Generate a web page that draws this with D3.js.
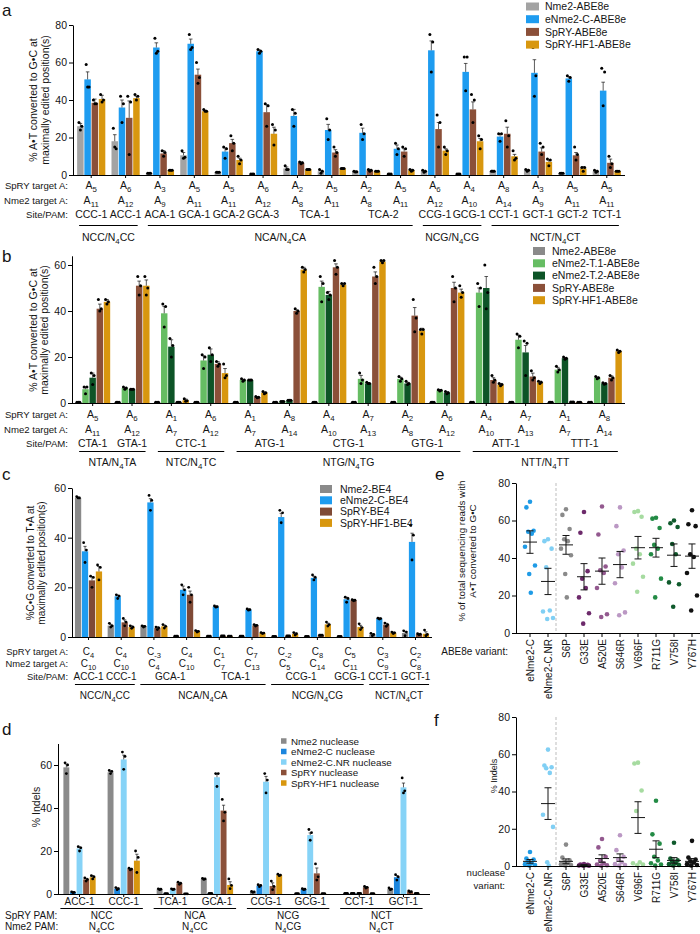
<!DOCTYPE html>
<html><head><meta charset="utf-8">
<script src="https://cdn.jsdelivr.net/npm/d3@7"></script>
<style>body{margin:0;background:#fff}svg{font-family:"Liberation Sans",Arial,Helvetica,sans-serif}</style>
</head><body>
<svg id="chart" width="700" height="934"></svg>
<script>
// ---------------- DATA ----------------
// Panel a
const aSpry = ["5","6","3","5","5","6","2","5","2","5","6","4","8","3","5","5"];
const aNme2 = ["11","12","9","11","11","12","8","11","8","11","12","10","14","9","11","11"];
const aSite = ["CCC-1","ACC-1","ACA-1","GCA-1","GCA-2","GCA-3","TCA-1","TCA-1","TCA-2","TCA-2","CCG-1","GCG-1","CCT-1","GCT-1","GCT-2","TCT-1"];
const aPam = ["NCC/N_{4}CC","NCC/N_{4}CC","NCA/N_{4}CA","NCA/N_{4}CA","NCA/N_{4}CA","NCA/N_{4}CA","NCA/N_{4}CA","NCA/N_{4}CA","NCA/N_{4}CA","NCA/N_{4}CA","NCG/N_{4}CG","NCG/N_{4}CG","NCT/N_{4}CT","NCT/N_{4}CT","NCT/N_{4}CT","NCT/N_{4}CT"];
const aNames = ["Nme2-ABE8e","eNme2-C-ABE8e","SpRY-ABE8e","SpRY-HF1-ABE8e"];
const aNme2Val = [26,18,1,10.5,1.5,0.5,3.5,2,1.8,0.5,2,0.5,2,2.5,1,2];
const aEVal    = [51,36,68,70,12.5,66,31.5,24,22.5,14,66.5,55,20.5,54.5,51.5,45];
const aSpryVal = [38.5,30.5,11.5,53.5,17,33.5,6.5,12,2.5,12.5,24.5,35,22,12.5,10.5,6.5];
const aHfVal   = [40.5,41,2.5,34,8,22,3,3.5,2,2.5,13,18,10,7,3.5,2];
const aNme2Sem = [1.5,3.5,0.2,1.5,0.2,0.1,0.8,0.5,0.3,0.2,0.5,0.2,0.5,0.5,0.3,0.5];
const aESem    = [4,4,2.5,2.5,2,0.7,3.5,3,2.5,2,5,4.5,1.5,7,1,4.5];
const aSprySem = [2,9,1.5,3,2,4,0.5,1.5,0.5,1.5,3.5,4,3.5,2,1.5,2];
const aHfSem   = [2,1,0.3,0.5,1,3.5,0.3,0.3,0.2,0.5,1,1.5,1,1,1,0.3];
const aNme2Dots = [[28,26,24],[25,14,15],[1,1,1],[13,9.5,9],[1.5,1.5,1.5],[0.5,0.5,0.5],[5,3,3],[3,2,1],[2,1.8,1.6],[0.5,0.5,0.5],[2.5,2,1.5],[0.5,0.5,0.5],[2,2,2],[3,2.5,2],[1,1,1],[2.5,2,1.5]];
const aEDots = [[59,47,47],[42,38,28],[73,66,65],[75,68,67],[15,14,9],[67,66,65],[35,33,26],[30,24,19],[27,22,19],[17,14,11],[75,71,55],[63,63,45],[22,22,18],[68,53,42],[53,52,50],[57,55,37]];
const aSpryDots = [[40,38,38],[42,39,11],[13,12,10],[60,52,49],[21,17,13],[38,37,26],[7,6.5,6],[15,12,10],[3,2.5,2],[15,14,10],[32,28,15],[43,40,28],[29,21,15],[17,15,11],[15,11,8],[10,6,4]];
const aHfDots = [[43,40,39],[43,42,40],[2.5,2.5,2.5],[35,34,34],[10,8,6],[27,24,16],[3,3,3],[3.5,3.5,3.5],[2,2,2],[3,2.5,2],[15,13,11],[21,19,14],[13,9,8],[8.5,8,5],[4,4,2],[2,2,2]];

// Panel b
const bSpry = ["5","6","1","6","1","8","4","7","2","6","4","7","1","8"];
const bNme2 = ["11","12","7","12","7","14","10","13","8","12","10","13","7","14"];
const bSite = ["CTA-1","GTA-1","CTC-1","CTC-1","ATG-1","ATG-1","CTG-1","CTG-1","GTG-1","GTG-1","ATT-1","ATT-1","TTT-1","TTT-1"];
const bPam = ["NTA/N_{4}TA","NTA/N_{4}TA","NTC/N_{4}TC","NTC/N_{4}TC","NTG/N_{4}TG","NTG/N_{4}TG","NTG/N_{4}TG","NTG/N_{4}TG","NTG/N_{4}TG","NTG/N_{4}TG","NTT/N_{4}TT","NTT/N_{4}TT","NTT/N_{4}TT","NTT/N_{4}TT"];
const bNames = ["Nme2-ABE8e","eNme2-T.1-ABE8e","eNme2-T.2-ABE8e","SpRY-ABE8e","SpRY-HF1-ABE8e"];
const bNme2Val = [0.3,0.3,0.3,0.3,0.3,0.3,0.3,0.3,0.3,0.3,0.3,0.3,0.3,0.3];
const bT1Val   = [6,6.5,39,18.5,10,0.7,50.5,10.5,10.5,5.5,48,27.5,14.5,11];
const bT2Val   = [11,6,24.5,21,10,1.2,47,8.5,8.5,4.5,50,22,19.5,8.5];
const bSpryVal = [41,51,0.3,17,2.5,40,59,55,38,50,10,11.5,0.4,11];
const bHfVal   = [44,51,1.2,13,4.5,58,51.5,61.5,31.5,48,8,9,0.3,22.5];
const bNme2Sem = [0.05,0.05,0.05,0.05,0.05,0.05,0.05,0.05,0.05,0.05,0.05,0.05,0.05,0.05];
const bT1Sem   = [1,0.3,3,2,0.3,0.1,2.5,1.5,0.7,0.3,2,2,1,0.3];
const bT2Sem   = [2,0.2,3,2.5,0.2,0.2,1.5,0.3,0.5,0.5,5,3,0.3,0.2];
const bSprySem = [2,2,0.1,1,0.2,0.5,1.5,2,3.5,2.5,1,1.5,0.1,0.8];
const bHfSem   = [1,2.5,0.5,2,0.3,1,0.5,0.5,1,1.5,0.5,0.5,0.1,0.3];
const bNme2Dots = [[0.3,0.3,0.3],[0.3,0.3,0.3],[0.3,0.3,0.3],[0.3,0.3,0.3],[0.3,0.3,0.3],[0.3,0.3,0.3],[0.3,0.3,0.3],[0.3,0.3,0.3],[0.3,0.3,0.3],[0.3,0.3,0.3],[0.3,0.3,0.3],[0.3,0.3,0.3],[0.3,0.3,0.3],[0.3,0.3,0.3]];
const bT1Dots = [[7,7,4],[7,6.5,6],[43,42,33],[21,20,15],[10.5,10,9.5],[0.7,0.7,0.7],[55,52,44],[13,10,8.5],[11.5,10.5,9.5],[5.8,5.5,5.2],[52,50,42],[30,29,24],[16,14.5,13.5],[11.5,11,10.5]];
const bT2Dots = [[13,12,8],[6,6,6],[28,25,20],[24,21,18],[10,10,10],[1.2,1.2,1.2],[48,47,45],[9,8.5,8.5],[9.5,8.5,8],[5,4.5,4],[60,48,41],[27,26,12],[20,19.5,19],[8.8,8.5,8.2]];
const bSpryDots = [[45,41,40],[55,51,47],[0.3,0.3,0.3],[18,17,16],[2.8,2.5,2.3],[41,40,39],[62,59,56],[59,55,52],[45,37,31],[55,50,44],[12,10,9],[14,11,10],[0.4,0.4,0.4],[12,11,10]];
const bHfDots = [[45,44,43],[55,50,47],[1.8,1,0.8],[17,12,11],[5,4.5,4],[59,58,57],[52,52,51],[62,62,61],[32,32,30],[51,48,46],[8.5,8,7.5],[9.5,9,8.5],[0.3,0.3,0.3],[23,22.5,22]];

// Panel c
const cSpry = ["4","4","-3","4","1","7","-2","8","5","3","2"];
const cNme2 = ["10","10","4","10","7","13","5","14","11","9","8"];
const cSite = ["ACC-1","CCC-1","GCA-1","GCA-1","TCA-1","TCA-1","CCG-1","CCG-1","GCG-1","CCT-1","GCT-1"];
const cPam = ["NCC/N_{4}CC","NCC/N_{4}CC","NCA/N_{4}CA","NCA/N_{4}CA","NCA/N_{4}CA","NCA/N_{4}CA","NCG/N_{4}CG","NCG/N_{4}CG","NCG/N_{4}CG","NCT/N_{4}CT","NCT/N_{4}CT"];
const cNames = ["Nme2-BE4","eNme2-C-BE4","SpRY-BE4","SpRY-HF1-BE4"];
const cNme2Val = [56,4.6,4.3,0.3,0.3,0.3,0.2,0.2,0.2,1,1.6];
const cEVal    = [34.5,16.4,54.2,19,12.2,11,48.3,23.8,15.2,7.4,38.3];
const cSpryVal = [22.8,5.9,3.6,17,0.4,4.7,0.4,0.7,14.8,5,1.1];
const cHfVal   = [26.4,4,4.3,2.3,0.3,1.6,1.3,5.1,4,1.7,1.3];
const cNme2Sem = [0.3,0.5,0.3,0.1,0.1,0.1,0.1,0.1,0.1,0.3,0.7];
const cESem    = [2,0.5,1.5,1.5,0.3,0.3,1.5,0.7,0.8,0.3,3.5];
const cSprySem = [1.5,1,0.5,1.5,0.1,0.3,0.1,0.1,0.3,0.5,0.2];
const cHfSem   = [2,0.5,0.5,0.3,0.1,0.2,0.3,0.5,0.7,0.3,0.8];
const cNme2Dots = [[56.5,56,56],[5.5,4.5,4],[4.5,4.3,4],[0.3,0.3,0.3],[0.3,0.3,0.3],[0.3,0.3,0.3],[0.2,0.2,0.2],[0.2,0.2,0.2],[0.2,0.2,0.2],[1.5,1,0.5],[2.5,2,0.5]];
const cEDots = [[38,35,30],[17,16.5,15.5],[57,55,51],[21,19,17],[12.5,12.2,12],[11.3,11,10.8],[51,50,46],[25,24,23],[16,15.5,14],[7.6,7.4,7.2],[45,41,31]];
const cSpryDots = [[24.5,24,20],[7.5,6,4.5],[4,3.7,3],[20,17,14],[0.4,0.4,0.4],[5,4.7,4.4],[0.4,0.4,0.4],[0.7,0.7,0.7],[15,14.8,14.6],[5.6,5,4.3],[1.3,1.1,0.9]];
const cHfDots = [[29,28,23],[4.5,4,3.5],[5,4.3,3.6],[2.6,2.3,2],[0.3,0.3,0.3],[1.8,1.6,1.4],[1.8,1.3,0.8],[6,5,4.4],[5.3,3.8,3],[2,1.7,1.4],[2.8,1,0.5]];

// Panel d
const dSite = ["ACC-1","CCC-1","TCA-1","GCA-1","CCG-1","GCG-1","CCT-1","GCT-1"];
const dSpryPam = ["NCC","NCC","NCA","NCA","NCG","NCG","NCT","NCT"];
const dNme2Pam = ["N_{4}CC","N_{4}CC","N_{4}CC","N_{4}CC","N_{4}CG","N_{4}CG","N_{4}CT","N_{4}CT"];
const dNames = ["Nme2 nuclease","eNme2-C nuclease","eNme2-C.NR nuclease","SpRY nuclease","SpRY-HF1 nuclease"];
const dNme2Val = [58.9,56.6,2.2,7,1,0.2,0.3,2.3];
const dEVal    = [0.8,2.5,0.2,0.3,3.9,2.2,0.3,7.8];
const dNRVal   = [21.2,62.6,2.2,54.3,52.2,27.4,0.3,49.6];
const dSpryVal = [6.8,11.6,5,38.8,3.7,9.6,3.1,1.1];
const dHfVal   = [7.8,15.5,0.1,4.2,8.8,0.2,0.2,0.3];
const dNme2Sem = [1.5,0.5,0.2,0.3,0.2,0.05,0.05,0.3];
const dESem    = [0.2,0.3,0.05,0.1,0.3,0.2,0.05,0.8];
const dNRSem   = [0.7,2,0.2,1.5,2.5,1,0.05,2];
const dSprySem = [0.5,0.3,0.3,2.5,1.5,2.5,0.3,0.2];
const dHfSem   = [0.8,3,0.05,1.5,0.3,0.05,0.05,0.05];
const dNme2Dots = [[61,60,56],[57.5,57,56],[2.4,2.2,2],[7.3,7,6.8],[1.2,1,0.8],[0.2,0.2,0.2],[0.3,0.3,0.3],[2.8,2.3,2]];
const dEDots = [[1,0.8,0.6],[3,2.5,2],[0.2,0.2,0.2],[0.3,0.3,0.3],[4.3,4,3.4],[2.5,2.2,2],[0.3,0.3,0.3],[9,8,6.5]];
const dNRDots = [[22,21.5,20],[66,64,58],[2.4,2.2,2],[56,56,50],[56,53,47],[30,28.5,25],[0.3,0.3,0.3],[54,48,47]];
const dSpryDots = [[7.5,6.8,6],[12,11.6,11.2],[5.5,5,4.5],[44,38,34],[6,3.5,2],[14,8,6.5],[3.5,3.1,2.8],[1.4,1.1,0.9]];
const dHfDots = [[8.5,8,7],[20,17,10],[0.1,0.1,0.1],[7,4,2.5],[9.2,8.8,8.5],[0.2,0.2,0.2],[0.2,0.2,0.2],[0.3,0.3,0.3]];

// Panels e, f
const variants = ["eNme2-C","eNme2-C.NR","S6P","G33E","A520E","S646R","V696F","R711G","V758I","Y767H"];
const eDots = [[70,67,54.5,54,53,46,36,31.5,21.5],[50,49,45,35,12,11.5,8,7.5],[66,63,55.5,50,49,45,41.5,31.5,19],[64.5,53.5,33,29,24,19,10.5,5],[67.5,52.5,35.5,33.5,32,24,10,8.5],[67,57,44,42,35,26.5,11,9.5],[65,64.5,62,45,42,37,30,22],[61.5,61,56,47,45,42,29,19],[60,58.5,56.5,47.5,42,27,26,14],[65.5,58,57,42,40.5,32,20,12]];
const eMean = [48.5,27.5,47,30,33,36.5,45.5,45.5,41.5,41];
const eSem = [6,7,5,7,7,7,6,5,6,6.5];
const fDots = [[7.5,4,3.5,2.5,1.5,1,0.5,0.3],[62.5,54,53,52.5,50,27.5,21,2,0.3],[11.5,4.5,3,2,1.5,1,0.5,0.3],[1,0.8,0.6,0.5,0.4,0.3,0.2,0.1],[14.5,10,5,3,1.5,0.8,0.4,0.2],[16.5,8.5,5,3.5,2,1,0.5,0.2],[55.5,55,40.5,29.5,2,1.5,0.8,0.4],[35,17,12,5,3,1.5,0.8,0.3],[12.5,4,3,2.5,1.5,1,0.5,0.3],[13.5,4.5,3.5,2.5,2,1,0.5,0.3]];
const fMean = [2.5,33.5,2.5,0.5,4,4.5,26,9,3,2.5];
const fSem = [1,8.5,1.3,0.2,2,2,8.5,4.5,1.5,1.5];

// ---------------- DRAWING ----------------
const svg = d3.select("#chart");
const INK = "#151515";
const C = {gray:"#a3a3a3", gray2:"#8a8a8a", blue:"#1e9cf0", blue2:"#1b86de", lblue:"#86d3f7", brown:"#8b5039", orange:"#d8970f", lgreen:"#66bd63", dgreen:"#0d5427"};
const varColors = ["#1f9be6","#80cff4","#8a8a8a","#6d2a6b","#93598f","#bb98c4","#a6dba0","#238b45","#0f5a2c","#111111"];

function runs(arr,keys){keys=keys||arr;const out=[];arr.forEach((v,i)=>{if(out.length&&out[out.length-1].key===keys[i])out[out.length-1].end=i;else out.push({label:v,key:keys[i],start:i,end:i});});return out;}
function rich(t,s){
  const parts=s.split(/(_\{[^}]*\})/).filter(p=>p.length);
  let shifted=false;
  parts.forEach(p=>{
    if(p.startsWith("_{")){t.append("tspan").attr("dy",shifted?0:3).attr("font-size","0.75em").text(p.slice(2,-1));shifted=true;}
    else{const ts=t.append("tspan").text(p);if(shifted){ts.attr("dy",-3);shifted=false;}}
  });
  return t;
}
function txt(x,y,s,fs,anchor){return rich(svg.append("text").attr("x",x).attr("y",y).attr("font-size",fs).attr("text-anchor",anchor||"middle").attr("fill",INK),s);}
function yTitle(lines,x,yc,fs,lh){
  const t=svg.append("text").attr("transform",`translate(${x},${yc}) rotate(-90)`).attr("text-anchor","middle").attr("font-size",fs).attr("fill",INK);
  lines.forEach((l,i)=>t.append("tspan").attr("x",0).attr("dy",i?lh:0).text(l));
}
function legend(names,colors,o){
  names.forEach((n,i)=>{const cy=o.y+i*o.dy;
    svg.append("rect").attr("x",o.x).attr("y",cy-o.h/2).attr("width",o.w).attr("height",o.h).attr("fill",colors[i]);
    svg.append("text").attr("x",o.tx).attr("y",cy).attr("dy","0.36em").attr("font-size",o.fs).attr("fill",INK).text(n);});
}
function panelLetter(l,x,y){svg.append("text").attr("x",x).attr("y",y).attr("font-size",17).attr("fill",INK).text(l);}

function barPanel(o){
  const g=svg.append("g");
  const y=d3.scaleLinear().domain([0,o.max]).range([o.y0,o.yTop]);
  const xs=d3.scaleBand().domain(d3.range(o.series.length)).range([0,o.gw]).paddingInner(o.barPad);
  const bw=xs.bandwidth();
  o.series.forEach((s,si)=>{
    const recs=s.values.map((v,i)=>({v,e:s.sem[i],dots:s.dots[i],cx:o.gx(i)+xs(si)+bw/2}));
    g.append("g").selectAll("rect").data(recs).join("rect")
      .attr("x",d=>d.cx-bw/2).attr("width",bw).attr("y",d=>y(d.v)).attr("height",d=>o.y0-y(d.v)).attr("fill",s.color);
    g.append("g").attr("stroke",INK).attr("stroke-width",0.7).attr("fill","none")
      .selectAll("path").data(recs).join("path")
      .attr("d",d=>`M${d.cx},${y(d.v)}V${y(d.v+d.e)}M${d.cx-o.cap},${y(d.v+d.e)}H${d.cx+o.cap}`);
    const dg=g.append("g").attr("fill","#000");
    const off=[-bw*0.22,bw*0.22,0];
    recs.forEach(d=>{dg.selectAll(null).data(d.dots).enter().append("circle")
      .attr("cx",(v,j)=>d.cx+off[j]).attr("cy",v=>y(v)).attr("r",o.r);});
  });
  const ax=g.append("g").attr("transform",`translate(${o.x0},0)`)
    .call(d3.axisLeft(y).tickValues(o.ticks).tickSize(4).tickSizeOuter(0).tickPadding(2));
  ax.attr("font-family",null).attr("font-size",o.tfs);
  ax.selectAll("line,path").attr("stroke","#000");
  ax.selectAll("text").attr("fill",INK);
  g.append("line").attr("x1",o.x0).attr("x2",o.x1).attr("y1",o.y0+0.5).attr("y2",o.y0+0.5).attr("stroke","#000");
  g.append("g").selectAll("line").data(d3.range(o.n)).join("line")
    .attr("x1",i=>o.gx(i)+o.gw/2).attr("x2",i=>o.gx(i)+o.gw/2).attr("y1",o.y0).attr("y2",o.y0+3).attr("stroke","#000");
  (o.rows||[]).forEach(r=>{
    if(r.label) txt(o.rowX,r.y,r.label,o.rfs,o.rowAnchor||"end");
    if(r.merge){runs(r.vals,r.keys).forEach(u=>txt((o.gx(u.start)+o.gx(u.end)+o.gw)/2,r.y,u.label,o.lfs));}
    else r.vals.forEach((v,i)=>txt(o.gx(i)+o.gw/2,r.y,v,o.lfs));
  });
  (o.cats||[]).forEach(c=>{
    runs(c.vals).forEach(u=>{
      if(c.lineY) svg.append("line").attr("x1",o.gx(u.start)+c.inset).attr("x2",o.gx(u.end)+o.gw-c.inset)
        .attr("y1",c.lineY).attr("y2",c.lineY).attr("stroke","#000").attr("stroke-width",1);
      if(c.y) txt((o.gx(u.start)+o.gx(u.end)+o.gw)/2,c.y,u.label,o.lfs);
    });
  });
}

// ---- Panel a
{
  const xb=d3.scaleBand().domain(d3.range(16)).range([73,625]).paddingInner(0.18).paddingOuter(0.12);
  barPanel({n:16,x0:73,x1:625,y0:175,yTop:25,max:80,ticks:[0,20,40,60,80],tfs:10.5,lfs:10.5,rfs:9.6,
    gx:i=>xb(i),gw:xb.bandwidth(),barPad:0.1,cap:1.8,r:1.5,rowX:68,
    series:[{values:aNme2Val,sem:aNme2Sem,dots:aNme2Dots,color:C.gray},
            {values:aEVal,sem:aESem,dots:aEDots,color:C.blue},
            {values:aSpryVal,sem:aSprySem,dots:aSpryDots,color:C.brown},
            {values:aHfVal,sem:aHfSem,dots:aHfDots,color:C.orange}],
    rows:[{label:"SpRY target A:",y:189,vals:aSpry.map(s=>"A_{"+s+"}")},
          {label:"Nme2 target A:",y:203.5,vals:aNme2.map(s=>"A_{"+s+"}")},
          {label:"Site/PAM:",y:217.5,vals:aSite,merge:true}],
    cats:[{vals:aPam,lineY:225.5,y:241,inset:2}]});
  yTitle(["% A\u2022T converted to G\u2022C at","maximally edited position(s)"],37,100,10.5,11.5);
  legend(aNames,[C.gray,C.blue,C.brown,C.orange],{x:526,y:6.5,dy:12.7,w:13,h:8,tx:545,fs:10.5});
  panelLetter("a",2,16);
}
// ---- Panel b
{
  const xb=d3.scaleBand().domain(d3.range(14)).range([72,625]).paddingInner(0.11).paddingOuter(0.08);
  barPanel({n:14,x0:72,x1:625,y0:403,yTop:403-64*2.3,max:64,ticks:[0,20,40,60],tfs:10.5,lfs:10.5,rfs:9.6,
    gx:i=>xb(i),gw:xb.bandwidth(),barPad:0.1,cap:1.8,r:1.5,rowX:68,
    series:[{values:bNme2Val,sem:bNme2Sem,dots:bNme2Dots,color:C.gray2},
            {values:bT1Val,sem:bT1Sem,dots:bT1Dots,color:C.lgreen},
            {values:bT2Val,sem:bT2Sem,dots:bT2Dots,color:C.dgreen},
            {values:bSpryVal,sem:bSprySem,dots:bSpryDots,color:C.brown},
            {values:bHfVal,sem:bHfSem,dots:bHfDots,color:C.orange}],
    rows:[{label:"SpRY target A:",y:418,vals:bSpry.map(s=>"A_{"+s+"}")},
          {label:"Nme2 target A:",y:433,vals:bNme2.map(s=>"A_{"+s+"}")},
          {label:"Site/PAM:",y:447,vals:bSite,merge:true}],
    cats:[{vals:bPam,lineY:451.5,y:466,inset:4}]});
  yTitle(["% A\u2022T converted to G\u2022C at","maximally edited position(s)"],37,330,10.5,11);
  legend(bNames,[C.gray2,C.lgreen,C.dgreen,C.brown,C.orange],{x:533,y:251,dy:12.3,w:12,h:8,tx:552,fs:10.5});
  panelLetter("b",2,262);
}
// ---- Panel c
{
  const xb=d3.scaleBand().domain(d3.range(11)).range([72,432]).paddingInner(0.17).paddingOuter(0.09);
  barPanel({n:11,x0:72,x1:432,y0:637,yTop:488,max:60,ticks:[0,20,40,60],tfs:10.5,lfs:10,rfs:9.4,
    gx:i=>xb(i),gw:xb.bandwidth(),barPad:0.1,cap:1.6,r:1.4,rowX:68,
    series:[{values:cNme2Val,sem:cNme2Sem,dots:cNme2Dots,color:C.gray2},
            {values:cEVal,sem:cESem,dots:cEDots,color:C.blue},
            {values:cSpryVal,sem:cSprySem,dots:cSpryDots,color:"#7f4a36"},
            {values:cHfVal,sem:cHfSem,dots:cHfDots,color:C.orange}],
    rows:[{label:"SpRY target A:",y:655,vals:cSpry.map(s=>"C_{"+s+"}")},
          {label:"Nme2 target A:",y:667,vals:cNme2.map(s=>"C_{"+s+"}")},
          {label:"Site/PAM:",y:680,vals:cSite,merge:true}],
    cats:[{vals:cPam,lineY:684.5,y:699,inset:0}]});
  yTitle(["%C\u2022G converted to T\u2022A at","maximally edited position(s)"],34,563,10,11);
  legend(cNames,[C.gray2,C.blue,"#7f4a36",C.orange],{x:320,y:489,dy:11.3,w:12,h:8,tx:340,fs:10.5});
  panelLetter("c",2,480);
}
// ---- Panel d
{
  const cats=["NCC","NCA","NCG","NCT"];
  const xo=d3.scaleBand().domain(cats).range([55,428]);
  const xi=d3.scaleBand().domain([0,1]).range([0,xo.bandwidth()]).paddingInner(0.27).paddingOuter(0.19);
  const gx=i=>xo(cats[Math.floor(i/2)])+xi(i%2);
  barPanel({n:8,x0:58,x1:430,y0:894,yTop:894-70*2.15,max:70,ticks:[0,20,40,60],tfs:10.5,lfs:10,rfs:10,
    gx:gx,gw:xi.bandwidth(),barPad:0.1,cap:1.6,r:1.4,rowX:5,rowAnchor:"start",
    series:[{values:dNme2Val,sem:dNme2Sem,dots:dNme2Dots,color:C.gray2},
            {values:dEVal,sem:dESem,dots:dEDots,color:C.blue2},
            {values:dNRVal,sem:dNRSem,dots:dNRDots,color:C.lblue},
            {values:dSpryVal,sem:dSprySem,dots:dSpryDots,color:C.brown},
            {values:dHfVal,sem:dHfSem,dots:dHfDots,color:C.orange}],
    rows:[{label:"",y:905,vals:dSite},
          {label:"SpRY PAM:",y:919,vals:dSpryPam,merge:true},
          {label:"Nme2 PAM:",y:930,vals:dNme2Pam,keys:dSpryPam,merge:true}],
    cats:[{vals:dSpryPam,lineY:908.5,inset:-3}]});
  yTitle(["% Indels"],40,807,10.5,11);
  legend(dNames,[C.gray2,C.blue2,C.lblue,C.brown,C.orange],{x:281,y:741,dy:10.5,w:5.5,h:5.5,tx:291,fs:9.8});
  panelLetter("d",2,735);
}

// ---- Panels e, f
function dotPanel(o){
  const g=svg.append("g");
  const x=d3.scalePoint().domain(variants).range([530,692]);
  const y=d3.scaleLinear().domain([0,80]).range([o.y0,o.yTop]);
  g.append("line").attr("x1",556).attr("x2",556).attr("y1",o.yTop).attr("y2",o.y0)
    .attr("stroke","#bdbdbd").attr("stroke-width",1).attr("stroke-dasharray","3,2");
  const jit=[0,-3.6,3.6,-1.8,1.8,-5,5,-0.8,0.8];
  variants.forEach((name,i)=>{
    g.append("g").selectAll("circle").data(o.dots[i]).join("circle")
      .attr("cx",(d,j)=>x(name)+jit[j%jit.length]).attr("cy",d=>y(d)).attr("r",2.3).attr("fill",varColors[i]);
  });
  g.append("g").attr("stroke",INK).attr("stroke-width",1).attr("fill","none")
    .selectAll("path").data(variants).join("path")
    .attr("d",(name,i)=>{const cx=x(name),m=o.mean[i],e=o.sem[i],lo=y(Math.max(0,m-e)),hi=y(m+e);
      return `M${cx-7},${y(m)}H${cx+7}M${cx},${lo}V${hi}M${cx-3.5},${lo}H${cx+3.5}M${cx-3.5},${hi}H${cx+3.5}`;});
  const ax=g.append("g").attr("transform","translate(516,0)")
    .call(d3.axisLeft(y).tickValues([0,20,40,60,80]).tickSize(4).tickSizeOuter(0).tickPadding(2));
  ax.attr("font-family",null).attr("font-size",10.5);
  ax.selectAll("line,path").attr("stroke","#000");
  ax.selectAll("text").attr("fill",INK);
  g.append("line").attr("x1",516).attr("x2",700).attr("y1",o.y0+0.5).attr("y2",o.y0+0.5).attr("stroke","#000");
  g.append("g").selectAll("line").data(variants).join("line")
    .attr("x1",d=>x(d)).attr("x2",d=>x(d)).attr("y1",o.y0).attr("y2",o.y0+4).attr("stroke","#000");
  g.append("g").selectAll("text").data(variants).join("text")
    .attr("transform",d=>`translate(${x(d)},${o.y0+6}) rotate(-90)`)
    .attr("text-anchor","end").attr("dy","0.35em").attr("font-size",10).attr("fill",INK).text(d=>d);
}
dotPanel({y0:633,yTop:483,dots:eDots,mean:eMean,sem:eSem});
yTitle(["% of total sequencing reads with","A\u2022T converted to G\u2022C"],465,551,9.8,11);
txt(508,655,"ABE8e variant:",10,"end");
panelLetter("e",435,480);

dotPanel({y0:866,yTop:717,dots:fDots,mean:fMean,sem:fSem});
yTitle(["% Indels"],497,776,9,11);
txt(505,876,"nuclease",9.6,"end");
txt(505,889,"variant:",9.6,"end");
panelLetter("f",434,726);
</script>
</body></html>
